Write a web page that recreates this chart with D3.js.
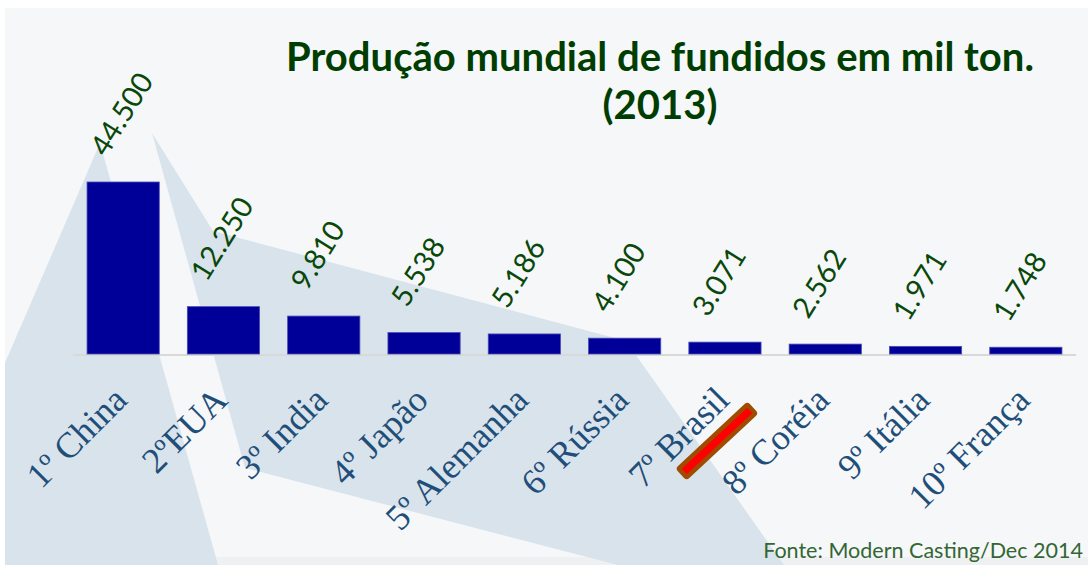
<!DOCTYPE html>
<html>
<head>
<meta charset="utf-8">
<script src="https://cdn.jsdelivr.net/npm/d3@7"></script>
<style>
  html, body { margin: 0; padding: 0; background: #ffffff; }
  svg { display: block; }
</style>
</head>
<body>
<script>
const width = 1088;
const height = 565;

// data
const categories = ['1º China', '2ºEUA', '3º India', '4º Japão', '5º Alemanha',
  '6º Rússia', '7º Brasil', '8º Coréia', '9º Itália', '10º França'];
const values = [44500, 12250, 9810, 5538, 5186, 4100, 3071, 2562, 1971, 1748];
const highlighted = '7º Brasil';
const titleLines = ['Produção mundial de fundidos em mil ton.', '(2013)'];
const source = 'Fonte: Modern Casting/Dec 2014';

// decorative background shapes of the slide
const shapes = [
  [[100, 143], [218, 565], [5, 565], [5, 363]],
  [[152, 133], [213, 231], [626, 341], [784, 565], [618, 565], [245, 468]]
];

const svg = d3.select('body')
  .append('svg')
  .attr('width', width)
  .attr('height', height);

svg.append('rect')
  .attr('x', 5).attr('y', 8)
  .attr('width', width - 5).attr('height', 550)
  .attr('fill', '#f5f7f9');

svg.append('rect')
  .attr('x', 5).attr('y', 557)
  .attr('width', width - 5).attr('height', 8)
  .attr('fill', '#eef0f2');

svg.selectAll('polygon.deco')
  .data(shapes)
  .join('polygon')
  .attr('class', 'deco')
  .attr('points', d => d.map(p => p.join(',')).join(' '))
  .attr('fill', '#d9e3ec');

const x = d3.scaleBand()
  .domain(categories)
  .range([73, 1076])
  .paddingInner(0.28)
  .paddingOuter(0.14);

const y = d3.scaleLinear()
  .domain([0, d3.max(values)])
  .range([354, 182]);

const fmt = d3.formatLocale({decimal: ',', thousands: '.', grouping: [3], currency: ['', '']}).format(',');

const data = categories.map((c, i) => ({cat: c, value: values[i]}));

// baseline
svg.append('line')
  .attr('x1', x.range()[0]).attr('x2', x.range()[1])
  .attr('y1', y(0) + 1).attr('y2', y(0) + 1)
  .attr('stroke', '#d9d9d9')
  .attr('stroke-width', 2);

svg.selectAll('rect.bar')
  .data(data)
  .join('rect')
  .attr('class', 'bar')
  .attr('x', d => x(d.cat))
  .attr('width', x.bandwidth())
  .attr('y', d => y(d.value))
  .attr('height', d => y(0) - y(d.value))
  .attr('fill', '#000099')
  .attr('stroke', '#4b4bb4')
  .attr('stroke-width', 0.8);

svg.selectAll('text.value')
  .data(data)
  .join('text')
  .attr('class', 'value')
  .attr('transform', d => `translate(${x(d.cat) + x.bandwidth() / 2 - 17},${y(d.value) - 24}) rotate(-58)`)
  .attr('font-family', 'Lato, "Open Sans", sans-serif')
  .attr('font-size', 29)
  .attr('fill', '#0a470a')
  .text(d => fmt(d.value));

svg.selectAll('text.cat')
  .data(data)
  .join('text')
  .attr('class', 'cat')
  .attr('transform', d => `translate(${x(d.cat) + x.bandwidth() / 2 + 6},402) rotate(-45)`)
  .attr('text-anchor', 'end')
  .attr('font-family', '"Liberation Serif", "DejaVu Serif", serif')
  .attr('font-size', 36)
  .attr('fill', '#1f4e79')
  .text(d => d.cat);

// highlight marker next to Brasil
const hx = x(highlighted) + x.bandwidth() / 2 - 8;
svg.append('rect')
  .attr('transform', `translate(${hx},441) rotate(-43)`)
  .attr('x', -47).attr('y', -6)
  .attr('width', 94).attr('height', 12)
  .attr('rx', 1.5)
  .attr('fill', '#ff0000')
  .attr('stroke', '#a04c00')
  .attr('stroke-width', 4.5);

// title
const title = svg.append('text')
  .attr('text-anchor', 'middle')
  .attr('font-family', 'Lato, "Open Sans", sans-serif')
  .attr('font-weight', 'bold')
  .attr('fill', '#003d00');

title.selectAll('tspan')
  .data(titleLines)
  .join('tspan')
  .attr('x', 660)
  .attr('y', (d, i) => 71 + i * 48)
  .text(d => d);

// fit title width to the reference
title.attr('font-size', 40);
const tw = title.select('tspan').node().getComputedTextLength();
title.attr('font-size', 40 * 748 / tw);

const src = svg.append('text')
  .attr('x', 1083)
  .attr('y', 558)
  .attr('text-anchor', 'end')
  .attr('font-family', 'Lato, "Open Sans", sans-serif')
  .attr('font-size', 20)
  .attr('fill', '#336633')
  .text(source);
const sw = src.node().getComputedTextLength();
src.attr('font-size', 20 * 320 / sw);
</script>
</body>
</html>
